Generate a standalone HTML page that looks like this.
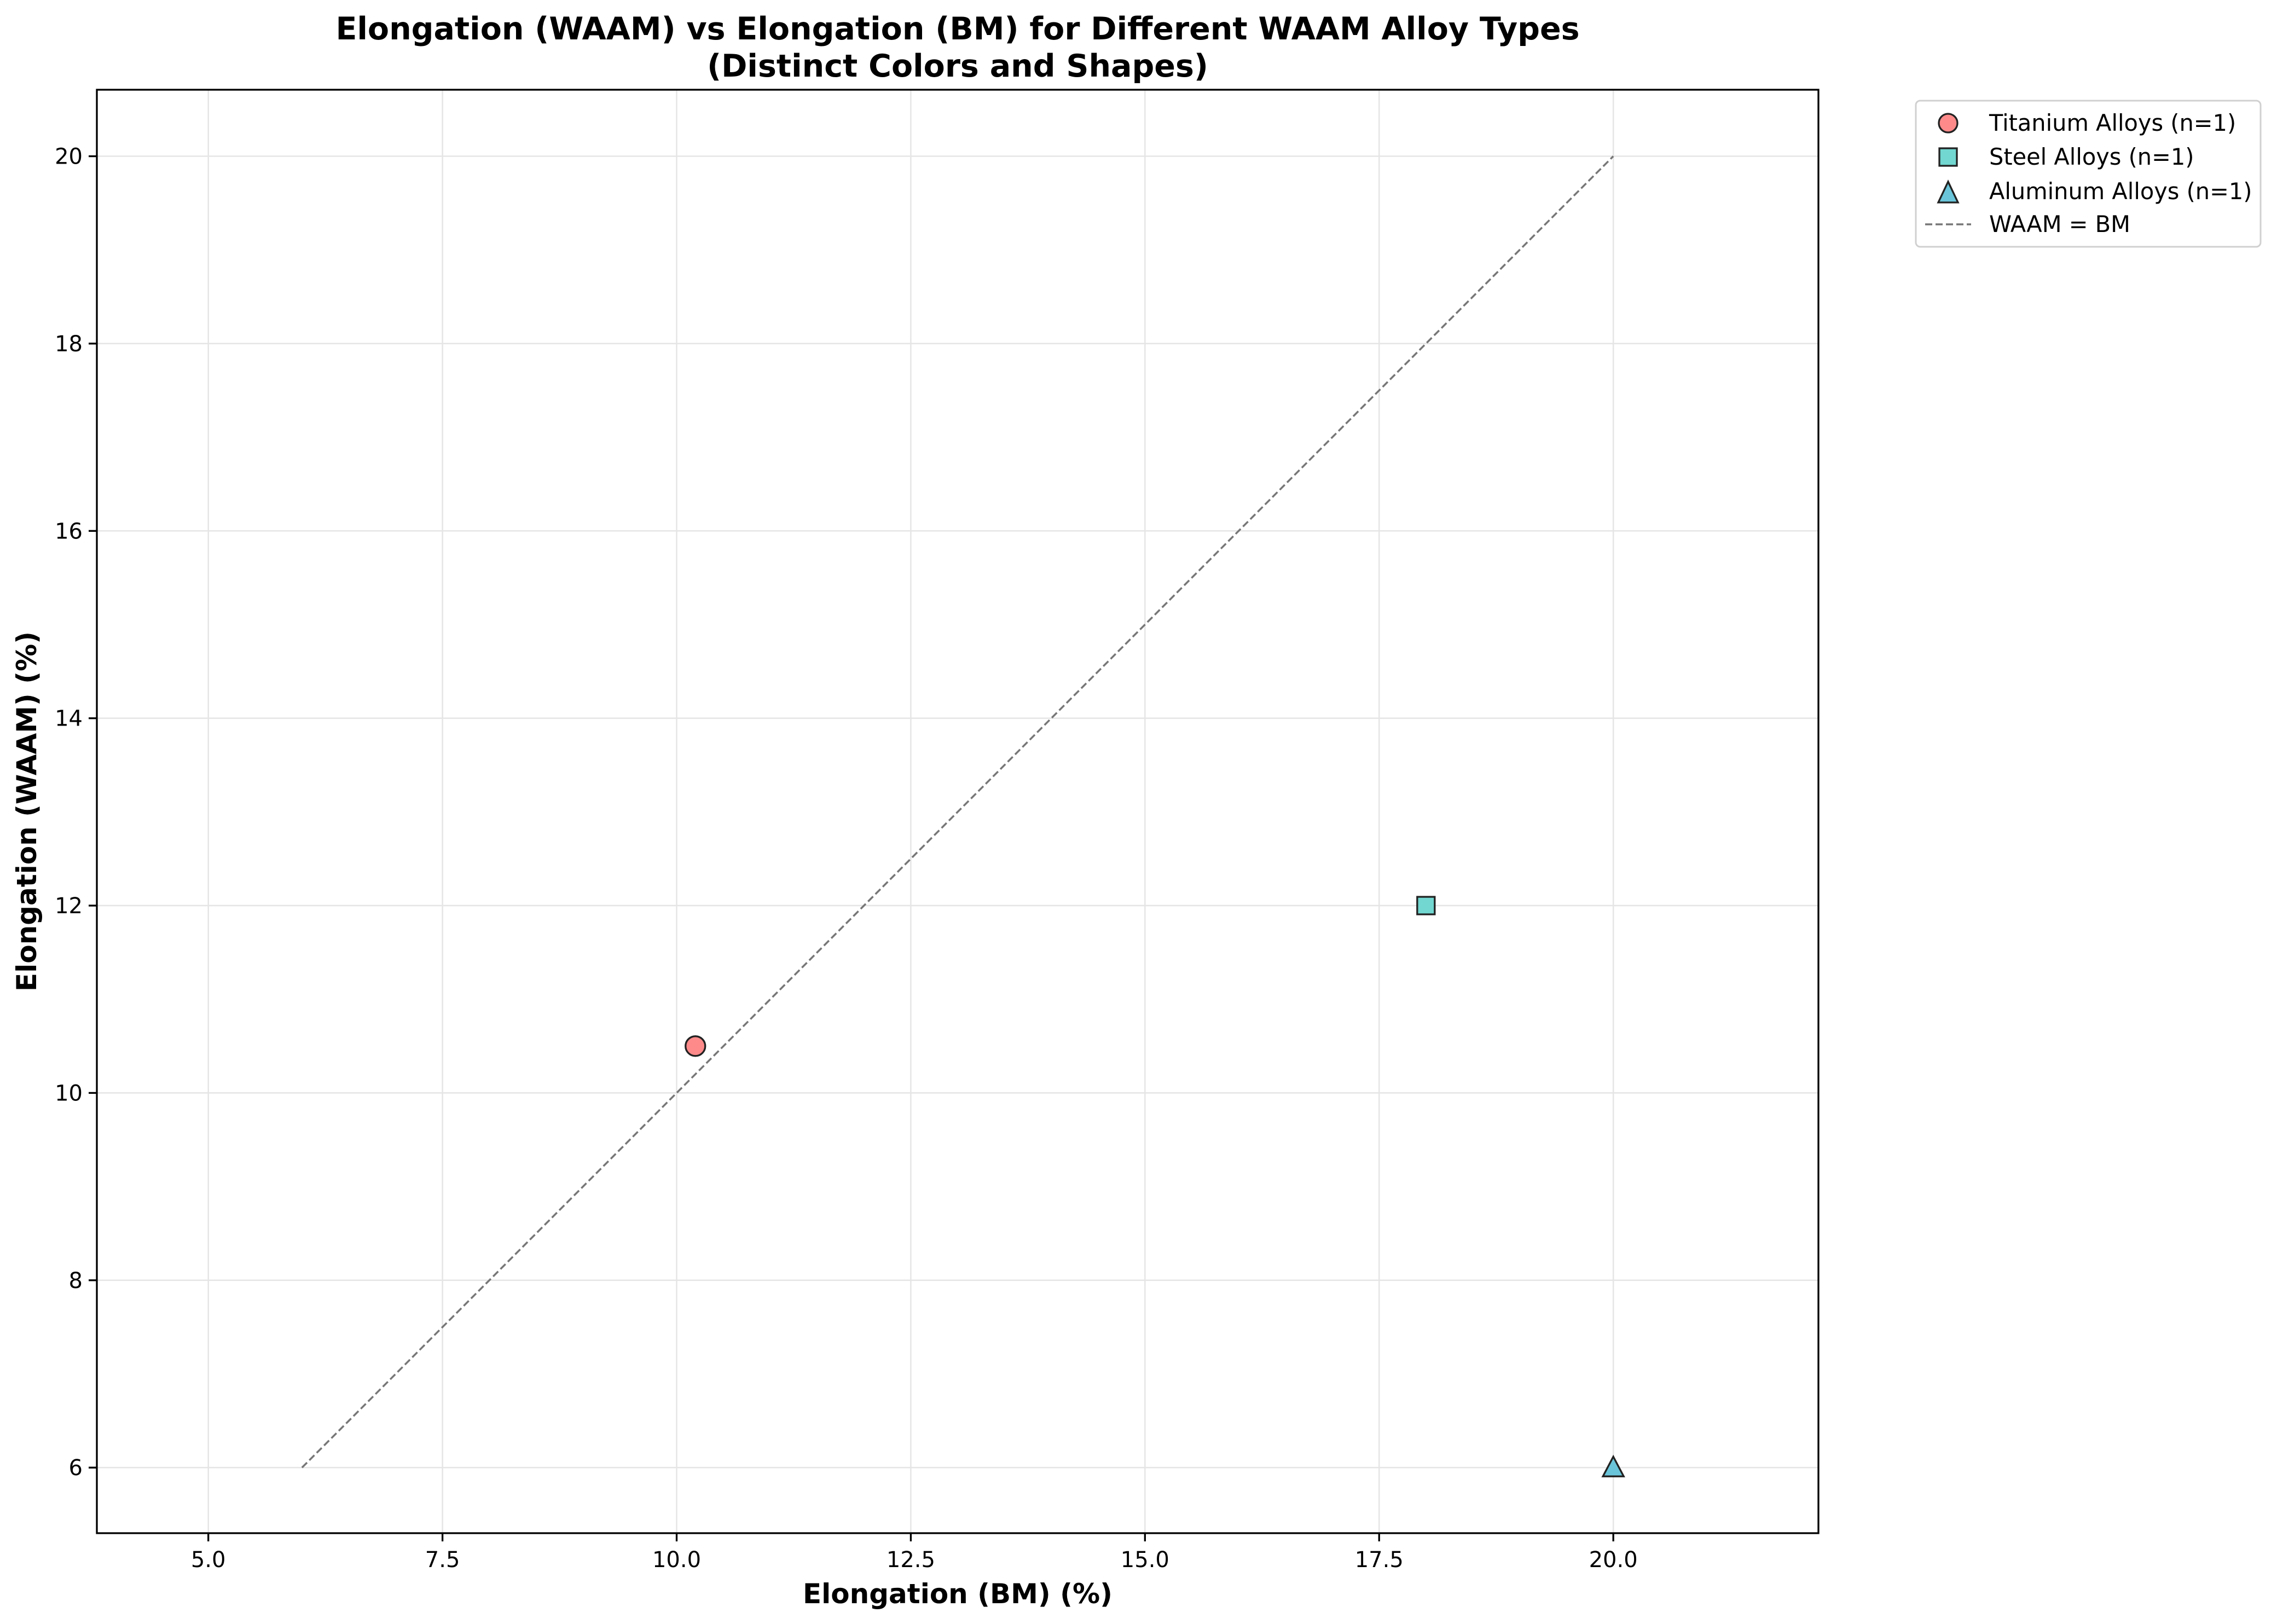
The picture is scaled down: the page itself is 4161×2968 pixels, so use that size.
<!DOCTYPE html>
<html><head><meta charset="utf-8"><style>
html,body{margin:0;padding:0;background:#fff;}
svg{display:block;font-family:"DejaVu Sans","Liberation Sans",sans-serif;}
</style></head><body>
<svg id="chart" width="4161" height="2968" viewBox="0 0 4161 2968" xmlns="http://www.w3.org/2000/svg">
<rect x="0" y="0" width="4161" height="2968" fill="#fff"/>
<g id="grid"></g>
<g id="plot"></g>
<rect x="177" y="164" width="3146" height="2638" fill="none" stroke="#000" stroke-width="3.3"/>
<g id="ticks"></g>
<text x="1750" y="72" text-anchor="middle" font-size="57" font-weight="bold">Elongation (WAAM) vs Elongation (BM) for Different WAAM Alloy Types</text>
<text x="1750" y="140" text-anchor="middle" font-size="57" font-weight="bold">(Distinct Colors and Shapes)</text>
<text x="1750" y="2930" text-anchor="middle" font-size="50" font-weight="bold">Elongation (BM) (%)</text>
<text transform="translate(66,1483) rotate(-90)" text-anchor="middle" font-size="50" font-weight="bold">Elongation (WAAM) (%)</text>
<g>
<rect x="3501" y="184" width="630" height="267" rx="8" fill="#fff" stroke="#d0d0d0" stroke-width="3"/>
<g><circle cx="3560" cy="225" r="17" fill="#ff8a8a" stroke="#222" stroke-width="3.3"/><text x="3635" y="239" font-size="41.5">Titanium Alloys (n=1)</text></g>
<g><rect x="3544" y="271" width="32" height="32" fill="#71d7d0" stroke="#222" stroke-width="3.3"/><text x="3635" y="301" font-size="41.5">Steel Alloys (n=1)</text></g>
<g><polygon points="3560,332 3578,370 3542,370" fill="#6ac5da" stroke="#222" stroke-width="3.3"/><text x="3635" y="364" font-size="41.5">Aluminum Alloys (n=1)</text></g>
<g><line x1="3518" y1="410" x2="3602" y2="410" stroke="#777" stroke-width="3.5" stroke-dasharray="13,6"/><text x="3635" y="424" font-size="41.5">WAAM = BM</text></g>
</g>
</svg>
<script>
const categories = ["Titanium Alloys", "Steel Alloys", "Aluminum Alloys"];
const bmValues = [10.2, 18, 20];
const waamValues = [10.5, 12, 6];
const xTicks = [5.0, 7.5, 10.0, 12.5, 15.0, 17.5, 20.0];
const yTicks = [6, 8, 10, 12, 14, 16, 18, 20];
const identityRange = [6, 20];

const X0=177, X1=3323, Y0=2802, Y1=164, XMIN=3.81, XMAX=22.19, YMIN=5.30, YMAX=20.71;
function sx(v){return X0+(v-XMIN)/(XMAX-XMIN)*(X1-X0);}
function sy(v){return Y0-(v-YMIN)/(YMAX-YMIN)*(Y0-Y1);}
const NS="http://www.w3.org/2000/svg";
function mk(tag,attrs,parent){const e=document.createElementNS(NS,tag);for(const k in attrs)e.setAttribute(k,attrs[k]);parent.appendChild(e);return e;}
const grid=document.getElementById('grid'), ticks=document.getElementById('ticks'), plot=document.getElementById('plot');
xTicks.forEach(t=>{
  const x=sx(t);
  const g=mk('line',{x1:x,y1:Y1,x2:x,y2:Y0,stroke:'#e5e5e5','stroke-width':2.5},grid);
  
  
  const tk=mk('line',{x1:x,y1:Y0,x2:x,y2:Y0+15,stroke:'#000','stroke-width':3.3},ticks);
  
  
  const lb=mk('text',{x:x,y:Y0+62,'text-anchor':'middle','font-size':40},ticks);
  lb.textContent=t.toFixed(1);
  
  
});
yTicks.forEach(t=>{
  const y=sy(t);
  const g=mk('line',{x1:X0,y1:y,x2:X1,y2:y,stroke:'#e5e5e5','stroke-width':2.5},grid);
  
  
  const tk=mk('line',{x1:X0-15,y1:y,x2:X0,y2:y,stroke:'#000','stroke-width':3.3},ticks);
  
  
  const lb=mk('text',{x:X0-26,y:y+14,'text-anchor':'end','font-size':40},ticks);
  lb.textContent=String(t);
  
  
});
const idl=mk('line',{x1:sx(identityRange[0]),y1:sy(identityRange[0]),x2:sx(identityRange[1]),y2:sy(identityRange[1]),stroke:'#777','stroke-width':3.5,'stroke-dasharray':'13,6'},plot);


const fills=['#ff8a8a','#71d7d0','#6ac5da'];
categories.forEach((c,i)=>{
  const x=sx(bmValues[i]), y=sy(waamValues[i]);
  let m;
  if(i===0) m=mk('circle',{cx:x,cy:y,r:18,fill:fills[i],stroke:'#222','stroke-width':3.3},plot);
  else if(i===1) m=mk('rect',{x:x-16,y:y-16,width:32,height:32,fill:fills[i],stroke:'#222','stroke-width':3.3},plot);
  else m=mk('polygon',{points:`${x},${y-20} ${x+19},${y+16} ${x-19},${y+16}`,fill:fills[i],stroke:'#222','stroke-width':3.3},plot);
  
  
});
</script>
</body></html>
